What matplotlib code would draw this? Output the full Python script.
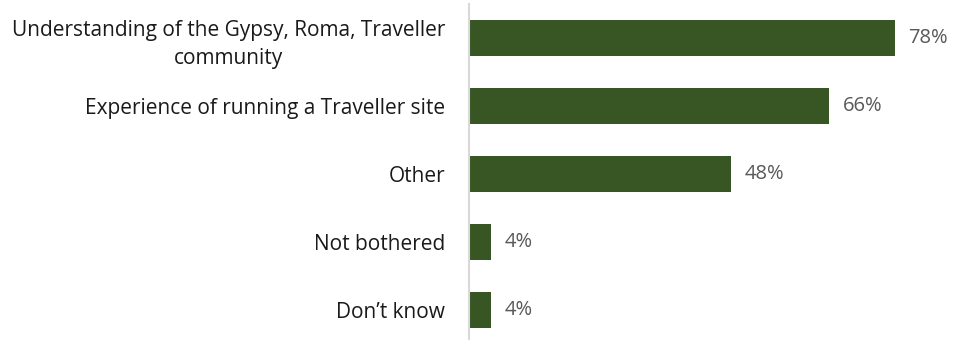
import matplotlib.pyplot as plt

# survey responses, top to bottom
categories = [
    "Understanding of the Gypsy, Roma, Traveller\ncommunity",
    "Experience of running a Traveller site",
    "Other",
    "Not bothered",
    "Don\u2019t know",
]
percentages = [78, 66, 48, 4, 4]

plt.rcParams['font.family'] = ['Open Sans', 'DejaVu Sans']

fig = plt.figure(figsize=(9.55, 3.4), dpi=100)
ax = fig.add_axes([0.491, 0.0, 0.509, 0.988])

bar_green = '#375623'
positions = list(range(len(categories)))
ax.barh(positions, percentages, height=0.53, color=bar_green)

# value labels to the right of each bar
for pos, val in zip(positions, percentages):
    ax.text(val + 2.5, pos, f"{val}%", va='center', ha='left',
            fontsize=14.5, color='#595959')

ax.set_yticks(positions)
ax.set_yticklabels(categories, fontsize=15, color='#1a1a1a',
                   multialignment='center', linespacing=1.45)
ax.tick_params(axis='y', length=0, pad=17)
ax.set_xticks([])

ax.set_xlim(0, 89)
ax.set_ylim(4.44, -0.5)

for side in ['top', 'right', 'bottom']:
    ax.spines[side].set_visible(False)
ax.spines['left'].set_color('#d9d9d9')
ax.spines['left'].set_linewidth(1.5)

fig.savefig('out.png', dpi=100)
